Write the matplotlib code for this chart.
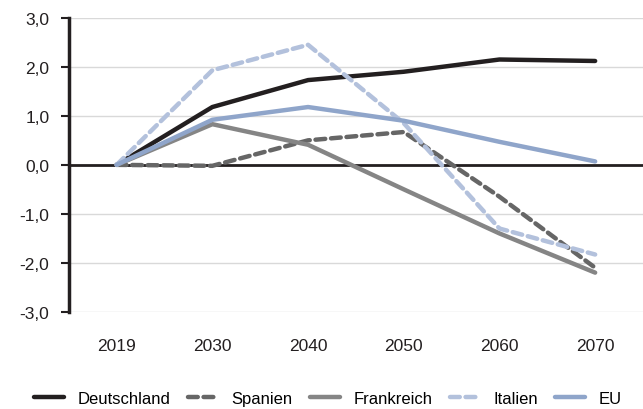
import matplotlib.pyplot as plt

years = ["2019", "2030", "2040", "2050", "2060", "2070"]
deutschland = [0.0, 1.18, 1.73, 1.90, 2.15, 2.12]
spanien = [0.0, -0.02, 0.50, 0.67, -0.65, -2.10]
frankreich = [0.0, 0.83, 0.41, -0.50, -1.40, -2.20]
italien = [0.0, 1.93, 2.45, 0.85, -1.30, -1.83]
eu = [0.0, 0.92, 1.18, 0.90, 0.47, 0.07]
yticks = [-3, -2, -1, 0, 1, 2, 3]

plt.rcParams["font.family"] = ["Liberation Sans", "DejaVu Sans"]

fig = plt.figure(figsize=(6.43, 4.10), dpi=100)
ax = fig.add_axes([0.107, 0.237, 0.893, 0.717])

x = range(len(years))
series = [
    ("Deutschland", deutschland, "#231f20", "-"),
    ("Spanien", spanien, "#666666", (0, (2.2, 1.3))),
    ("Frankreich", frankreich, "#858585", "-"),
    ("Italien", italien, "#b3c1dc", (0, (2.2, 1.3))),
    ("EU", eu, "#8fa5ca", "-"),
]

ax.axhline(0, color="#231f20", linewidth=2, zorder=2)
for label, vals, color, ls in series:
    ax.plot(x, vals, color=color, linestyle=ls, linewidth=3.2, label=label,
            solid_capstyle="round", dash_capstyle="round", zorder=3)

ax.set_xlim(-0.5, 5.5)
ax.set_ylim(-3, 3)
ax.set_yticks(yticks)
ax.set_yticklabels([f"{v:.1f}".replace(".", ",") for v in yticks])
ax.set_xticks(list(x))
ax.set_xticklabels(years)
ax.yaxis.grid(True, color="#d9d9d9", linewidth=1)
ax.set_axisbelow(True)

for s in ["top", "right", "bottom"]:
    ax.spines[s].set_visible(False)
ax.spines["left"].set_linewidth(2.5)
ax.spines["left"].set_color("#231f20")
ax.tick_params(axis="y", length=6, width=1.5, colors="#231f20", labelsize=12.5, pad=8)
ax.tick_params(axis="x", length=0, labelsize=12.5, pad=19, colors="#231f20")

fig.legend(loc="lower center", bbox_to_anchor=(0.51, -0.03), ncol=5, frameon=False,
           fontsize=12, handlelength=1.8, columnspacing=1.05, handletextpad=0.8)

fig.savefig("out.png", dpi=100)
